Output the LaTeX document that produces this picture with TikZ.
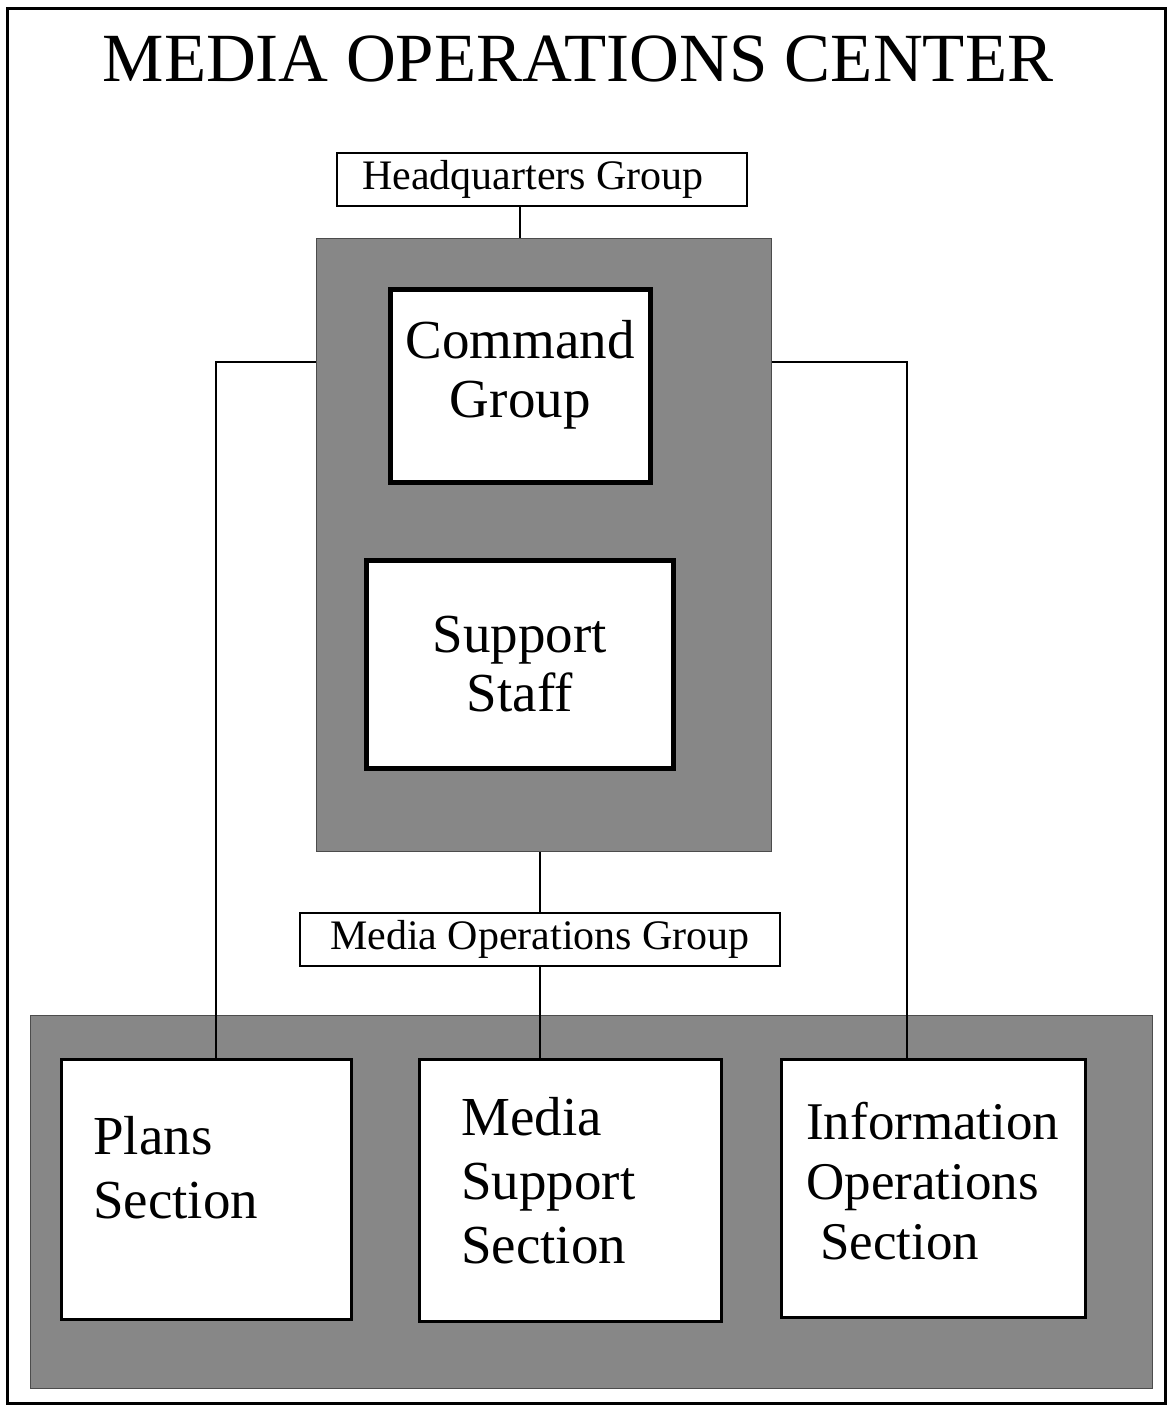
\documentclass[tikz,border=0pt]{standalone}
\usepackage{fontspec}
\setmainfont{Liberation Serif}
\usetikzlibrary{positioning}
\newcommand{\padbelow}[1]{\rule[-#1]{0pt}{#1}}

\begin{document}
\begin{tikzpicture}[x=1pt,y=-1pt,line width=2pt,
  box/.style={draw,fill=white,inner sep=0pt,anchor=north west},
  greybox/.style={draw=black!70,fill=black!47,line width=1pt,inner sep=0pt,anchor=north west},
  bigtext/.style={font=\fontsize{55}{59}\selectfont,align=center},
  sectext/.style={font=\fontsize{55}{64}\selectfont,align=left},
  smalltext/.style={font=\fontsize{42}{46}\selectfont}]
\useasboundingbox (0,0) rectangle (1172,1407);
\draw[line width=3pt] (7,9) rectangle (1165,1403);
\node[font=\fontsize{69}{72}\selectfont,anchor=base] (title) at (578,82) {MEDIA OPERATIONS CENTER};
\node[box,smalltext,minimum width=410,minimum height=53] (hqg) at (336,152) {Headquarters Group\hspace*{18pt}};
\node[greybox,minimum width=455,minimum height=613] (core) at (316,238) {};
\node[box,bigtext,line width=4.5pt,minimum width=260,minimum height=193] (cmd) at (388,287) {Command\\Group\padbelow{34pt}};
\node[box,bigtext,line width=4.5pt,minimum width=307,minimum height=208] (staff) at (364,558) {Support\\Staff};
\node[box,smalltext,minimum width=480,minimum height=53] (mog) at (299,912) {Media Operations Group};
\node[greybox,minimum width=1122,minimum height=373] (band) at (30,1015) {};
\node[box,sectext,line width=2.5pt,inner xsep=32,text width=226,minimum height=260] (plans) at (60,1058) {Plans\\Section\padbelow{44pt}};
\node[box,sectext,line width=2.5pt,inner xsep=42,text width=218,minimum height=262] (msup) at (418,1058) {Media\\Support\\Section\padbelow{20pt}};
\node[box,sectext,font=\fontsize{53}{60}\selectfont,line width=2.5pt,inner xsep=25,text width=254,minimum height=258] (infoops) at (780,1058) {Information\\Operations\\\hspace*{14pt}Section\padbelow{14pt}};
\draw (cmd |- hqg.south) -- (cmd |- core.north);
\draw (mog.north |- core.south) -- (mog.north);
\draw (mog.south) -- (mog.south |- msup.north);
\draw (core.west |- 0,362) -| (plans.north -| 216,0);
\draw (core.east |- 0,362) -| (infoops.north -| 907,0);
\end{tikzpicture}
\end{document}
